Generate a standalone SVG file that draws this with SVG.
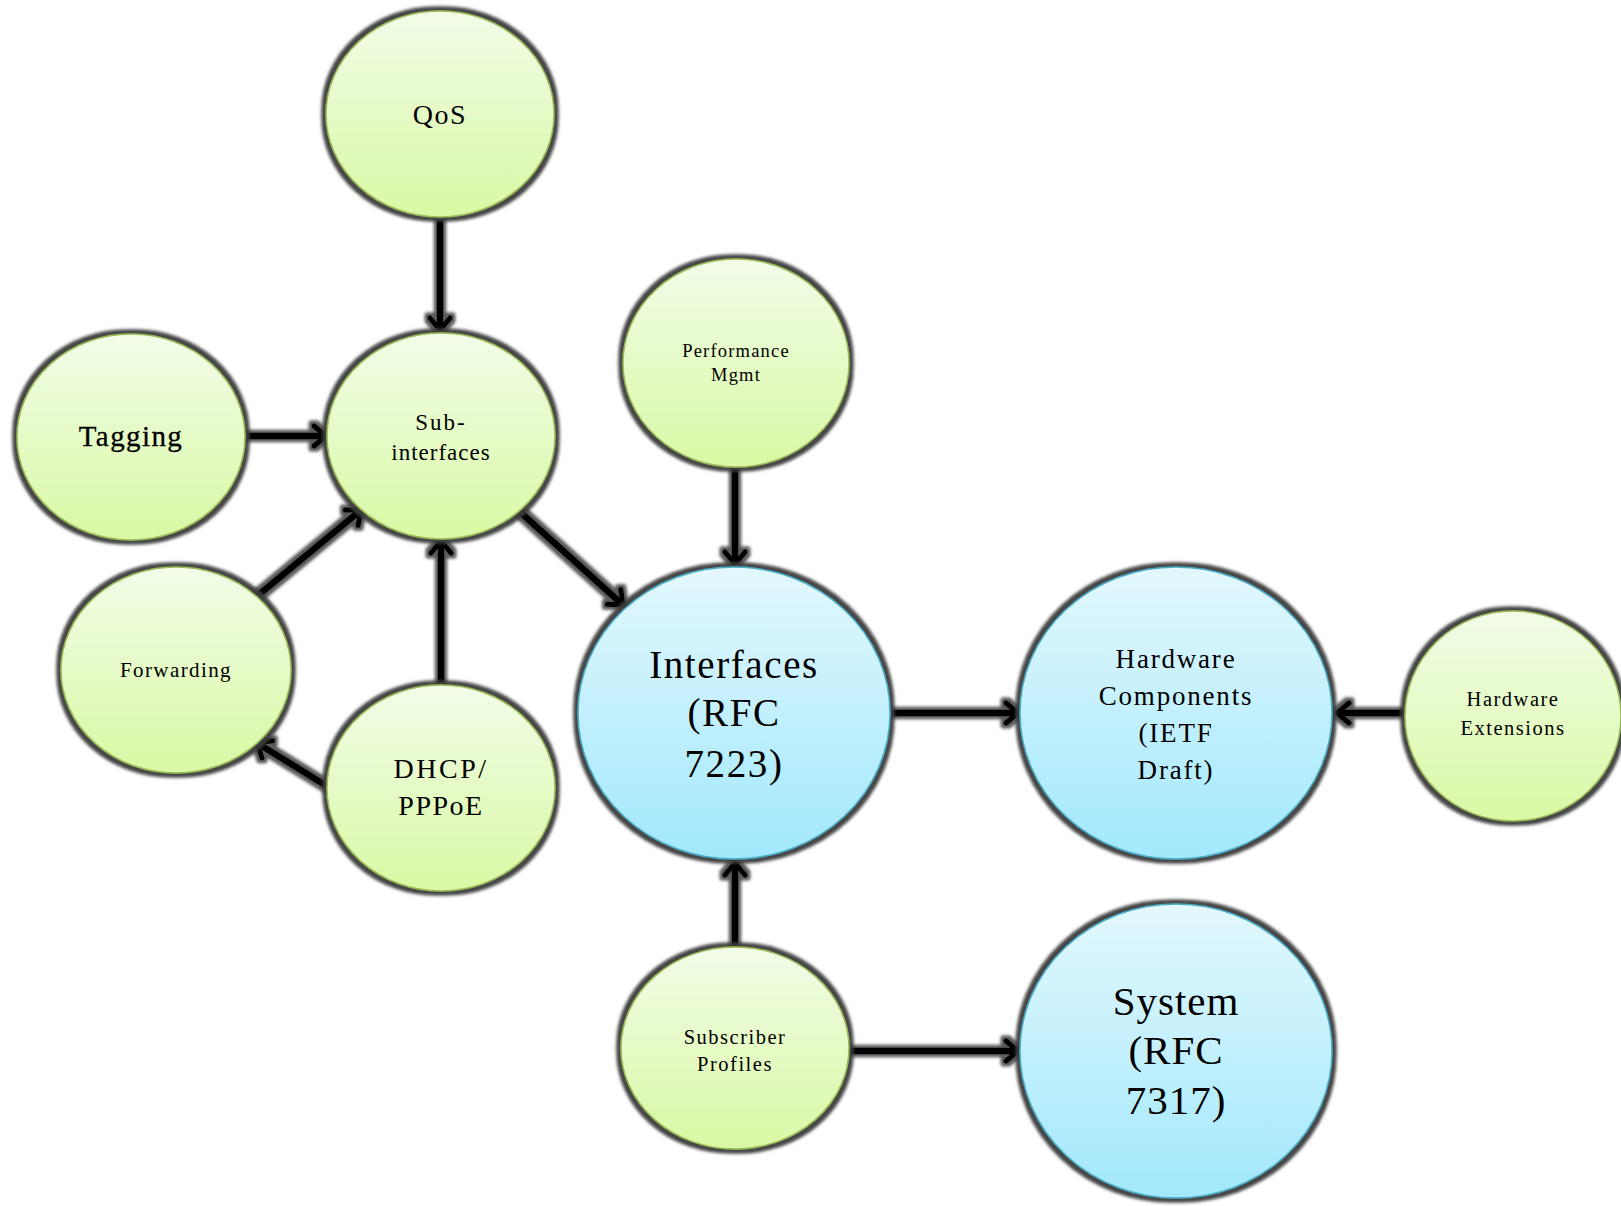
<svg xmlns="http://www.w3.org/2000/svg" width="1621" height="1206" viewBox="0 0 1621 1206">
<defs>
<linearGradient id="gGreen" x1="0" y1="0" x2="0" y2="1">
<stop offset="0" stop-color="#f2fce8"/>
<stop offset="1" stop-color="#d9f9a4"/>
</linearGradient>
<linearGradient id="gBlue" x1="0" y1="0" x2="0" y2="1">
<stop offset="0" stop-color="#e3f8fd"/>
<stop offset="1" stop-color="#a2e8fc"/>
</linearGradient>
<filter id="glow" x="-20%" y="-20%" width="140%" height="140%">
<feMorphology in="SourceAlpha" operator="dilate" radius="4" result="d"/>
<feGaussianBlur in="d" stdDeviation="1.8" result="b"/>
<feFlood flood-color="#3c3c3c" flood-opacity="0.95"/>
<feComposite in2="b" operator="in" result="s"/>
<feMerge><feMergeNode in="s"/><feMergeNode in="SourceGraphic"/></feMerge>
</filter>
<filter id="lglow" filterUnits="userSpaceOnUse" x="0" y="0" width="1621" height="1206">
<feMorphology in="SourceAlpha" operator="dilate" radius="3" result="d"/>
<feGaussianBlur in="d" stdDeviation="1.8" result="b"/>
<feFlood flood-color="#3c3c3c" flood-opacity="0.85"/>
<feComposite in2="b" operator="in" result="s"/>
<feMerge><feMergeNode in="s"/><feMergeNode in="SourceGraphic"/></feMerge>
</filter>
<marker id="arr" markerUnits="userSpaceOnUse" markerWidth="24" markerHeight="28" refX="15" refY="13" orient="auto" viewBox="0 0 24 28">
<path d="M3,3 L15,13 L3,23" fill="none" stroke="#000" stroke-width="5" stroke-linecap="round" stroke-linejoin="miter"/>
</marker>
<style>
.g{fill:url(#gGreen);stroke:#9bbb59;stroke-width:1.5;filter:url(#glow)}
.b{fill:url(#gBlue);stroke:#4bacc6;stroke-width:1.5;filter:url(#glow)}
text{font-family:'Liberation Serif','Times New Roman',serif;fill:#000;text-anchor:middle}
.c line{stroke:#000;stroke-width:6.5;marker-end:url(#arr)}
</style>
</defs>
<rect width="1621" height="1206" fill="#fff"/>

<g id="connectors" class="c" filter="url(#lglow)">
<line x1="440" y1="220" x2="440" y2="330"/>
<line x1="247" y1="436" x2="326" y2="436"/>
<line x1="256" y1="597" x2="361" y2="510"/>
<line x1="441" y1="684" x2="441" y2="541"/>
<line x1="330" y1="788" x2="257" y2="743"/>
<line x1="519" y1="511" x2="623" y2="605"/>
<line x1="735" y1="467" x2="735" y2="564"/>
<line x1="892" y1="713" x2="1018" y2="713"/>
<line x1="1404" y1="713" x2="1337" y2="713"/>
<line x1="735" y1="947" x2="735" y2="863"/>
<line x1="850" y1="1051" x2="1018" y2="1051"/>
</g>

<g id="qos"><ellipse class="g" cx="440" cy="114" rx="114" ry="103"/>
<text x="440" y="124" font-family="Liberation Serif" font-size="28" letter-spacing="1.5">QoS</text></g>

<g id="subinterfaces"><ellipse class="g" cx="441" cy="436" rx="114" ry="103"/>
<text x="441" y="430" font-family="Liberation Serif" font-size="23" letter-spacing="2">Sub-</text>
<text x="441" y="460" font-family="Liberation Serif" font-size="23" letter-spacing="1">interfaces</text></g>

<g id="tagging"><ellipse class="g" cx="131" cy="437" rx="114" ry="103"/>
<text x="131" y="446" font-family="Liberation Serif" font-size="29" letter-spacing="1.4" stroke="#000" stroke-width="0.3">Tagging</text></g>

<g id="forwarding"><ellipse class="g" cx="176" cy="670" rx="115" ry="103"/>
<text x="176" y="677" font-family="Liberation Serif" font-size="21" letter-spacing="1.4">Forwarding</text></g>

<g id="dhcp"><ellipse class="g" cx="441" cy="788" rx="114" ry="103"/>
<text x="441" y="778" font-family="Liberation Serif" font-size="28" letter-spacing="2.5">DHCP/</text>
<text x="441" y="815" font-family="Liberation Serif" font-size="28" letter-spacing="1.5">PPPoE</text></g>

<g id="perf"><ellipse class="g" cx="736" cy="363" rx="113" ry="104"/>
<text x="736" y="357" font-family="Liberation Serif" font-size="18.5" letter-spacing="1.2">Performance</text>
<text x="736" y="381" font-family="Liberation Serif" font-size="18.5" letter-spacing="1.2">Mgmt</text></g>

<g id="interfaces"><ellipse class="b" cx="734" cy="713" rx="156" ry="146"/>
<text x="734" y="678" font-family="Liberation Serif" font-size="39" letter-spacing="1.6">Interfaces</text>
<text x="734" y="726" font-family="Liberation Serif" font-size="39" letter-spacing="1.6">(RFC</text>
<text x="734" y="777" font-family="Liberation Serif" font-size="39" letter-spacing="1.6">7223)</text></g>

<g id="hwcomp"><ellipse class="b" cx="1176" cy="713" rx="156" ry="146"/>
<text x="1176" y="668" font-family="Liberation Serif" font-size="27" letter-spacing="1.8">Hardware</text>
<text x="1176" y="705" font-family="Liberation Serif" font-size="27" letter-spacing="1.8">Components</text>
<text x="1176" y="742" font-family="Liberation Serif" font-size="27" letter-spacing="1.8">(IETF</text>
<text x="1176" y="779" font-family="Liberation Serif" font-size="27" letter-spacing="1.8">Draft)</text></g>

<g id="hwext"><ellipse class="g" cx="1513" cy="716" rx="108" ry="105"/>
<text x="1513" y="706" font-family="Liberation Serif" font-size="20.5" letter-spacing="1.5">Hardware</text>
<text x="1513" y="735" font-family="Liberation Serif" font-size="20.5" letter-spacing="1.5">Extensions</text></g>

<g id="subscriber"><ellipse class="g" cx="735" cy="1048" rx="114" ry="101"/>
<text x="735" y="1044" font-family="Liberation Serif" font-size="20.5" letter-spacing="1.5">Subscriber</text>
<text x="735" y="1071" font-family="Liberation Serif" font-size="20.5" letter-spacing="1.5">Profiles</text></g>

<g id="system"><ellipse class="b" cx="1176" cy="1051" rx="156" ry="147"/>
<text x="1176" y="1015" font-family="Liberation Serif" font-size="41" letter-spacing="1">System</text>
<text x="1176" y="1064" font-family="Liberation Serif" font-size="41" letter-spacing="1">(RFC</text>
<text x="1176" y="1114" font-family="Liberation Serif" font-size="41" letter-spacing="1">7317)</text></g>
</svg>
